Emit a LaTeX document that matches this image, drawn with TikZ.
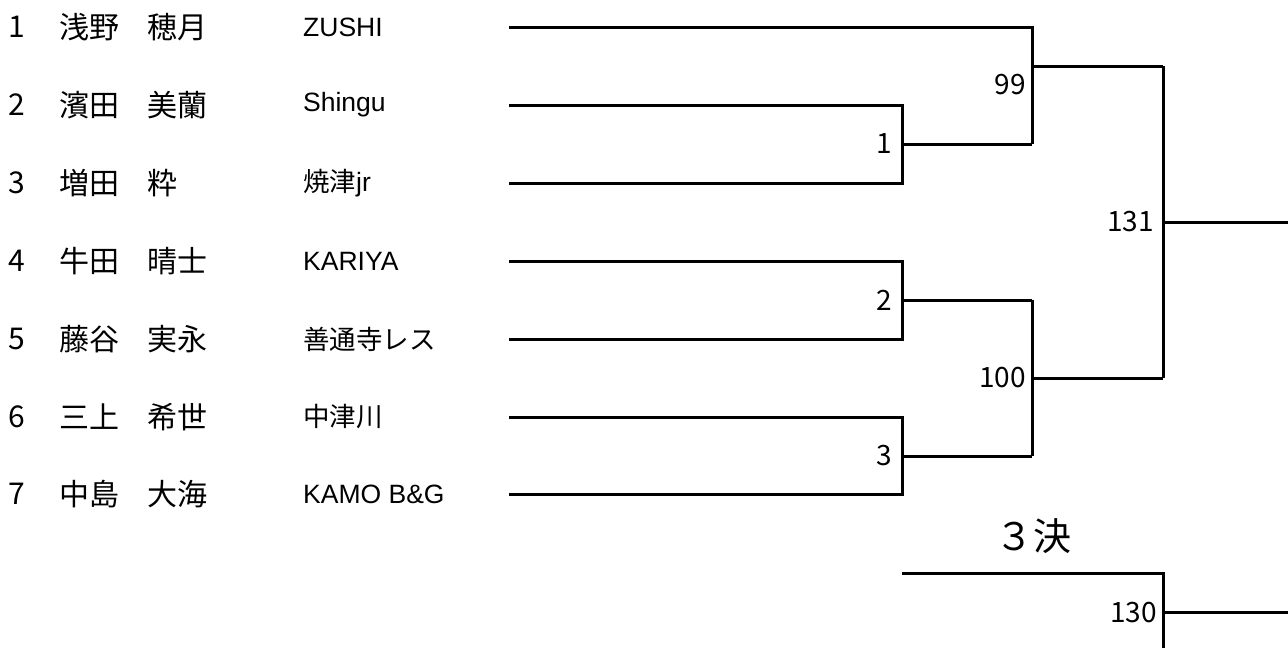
\documentclass[tikz,border=0pt]{standalone}
\usepackage{fontspec}
\setmainfont{Noto Sans CJK JP}
\newfontfamily\latf{Liberation Sans}
\newcommand\latin[1]{{\latf #1}}
\begin{document}
\begin{tikzpicture}[x=1pt,y=-1pt,
  br/.style={line width=3pt,line join=miter},
  numtxt/.style={inner sep=0pt,anchor=center,font=\fontsize{30}{32}\selectfont},
  nametxt/.style={inner sep=0pt,anchor=west,font=\fontsize{30}{32}\selectfont},
  clubtxt/.style={inner sep=0pt,anchor=west,font=\fontsize{26.5}{28}\selectfont},
  lbl/.style={inner sep=0pt,anchor=east,font=\fontsize{28}{30}\selectfont}]
\useasboundingbox (0,0) rectangle (1288,648);
% players
\foreach \i/\y/\a/\b/\c in {1/27/浅野/穂月/\latin{ZUSHI},2/105/濱田/美蘭/\latin{Shingu},3/183/増田/粋/焼津\latin{jr},4/261/牛田/晴士/\latin{KARIYA},5/339/藤谷/実永/善通寺レス,6/417/三上/希世/中津川,7/494/中島/大海/\latin{KAMO B\&G}}{
  \node[numtxt] (n\i) at (17,\y) {\i};
  \node[nametxt] (fa\i) at (59,\y) {\a};
  \node[nametxt] (gi\i) at (147,\y) {\b};
  \node[clubtxt] (cl\i) at (303,\y) {\c};
  \coordinate (s\i) at (509,\y);
}
% bracket joints
\coordinate (m1a) at (902,105); \coordinate (m1b) at (902,183); \coordinate (m1o) at (902,144); \coordinate (m1e) at (1032,144);
\coordinate (m2a) at (902,261); \coordinate (m2b) at (902,339); \coordinate (m2o) at (902,300); \coordinate (m2e) at (1032,300);
\coordinate (m3a) at (902,417); \coordinate (m3b) at (902,494); \coordinate (m3o) at (902,456); \coordinate (m3e) at (1032,456);
\coordinate (q1a) at (1032,27); \coordinate (q1o) at (1032,66); \coordinate (q1e) at (1163,66);
\coordinate (q2o) at (1032,378); \coordinate (q2e) at (1163,378);
\coordinate (fo) at (1163,222); \coordinate (fe) at (1288,222);
\coordinate (t0) at (902,573); \coordinate (t1) at (1163,573); \coordinate (tb) at (1163,648);
\coordinate (to) at (1163,612); \coordinate (te) at (1288,612);
% first round
\draw[br] (s2) -- (m1a) -- (m1b) -- (s3);
\draw[br] (m1o) -- (m1e);
\draw[br] (s4) -- (m2a) -- (m2b) -- (s5);
\draw[br] (m2o) -- (m2e);
\draw[br] (s6) -- (m3a) -- (m3b) -- (s7);
\draw[br] (m3o) -- (m3e);
% semis
\draw[br] (s1) -- (q1a) -- (m1e);
\draw[br] (q1o) -- (q1e);
\draw[br] (m2e) -- (m3e);
\draw[br] (q2o) -- (q2e);
% final
\draw[br] (q1e) -- (q2e);
\draw[br] (fo) -- (fe);
% third place
\draw[br] (t0) -- (t1) -- (tb);
\draw[br] (to) -- (te);
% labels
\node[lbl] (l1) at (892,144) {1};
\node[lbl] (l2) at (892,300) {2};
\node[lbl] (l3) at (892,456) {3};
\node[lbl] (l99) at (1026,85) {99};
\node[lbl] (l100) at (1026,378) {100};
\node[lbl] (l131) at (1154,222) {131};
\node[lbl] (l130) at (1157,613) {130};
\node[inner sep=0pt,font=\fontsize{38}{40}\selectfont] (third) at (1033,536) {３決};
\end{tikzpicture}
\end{document}
